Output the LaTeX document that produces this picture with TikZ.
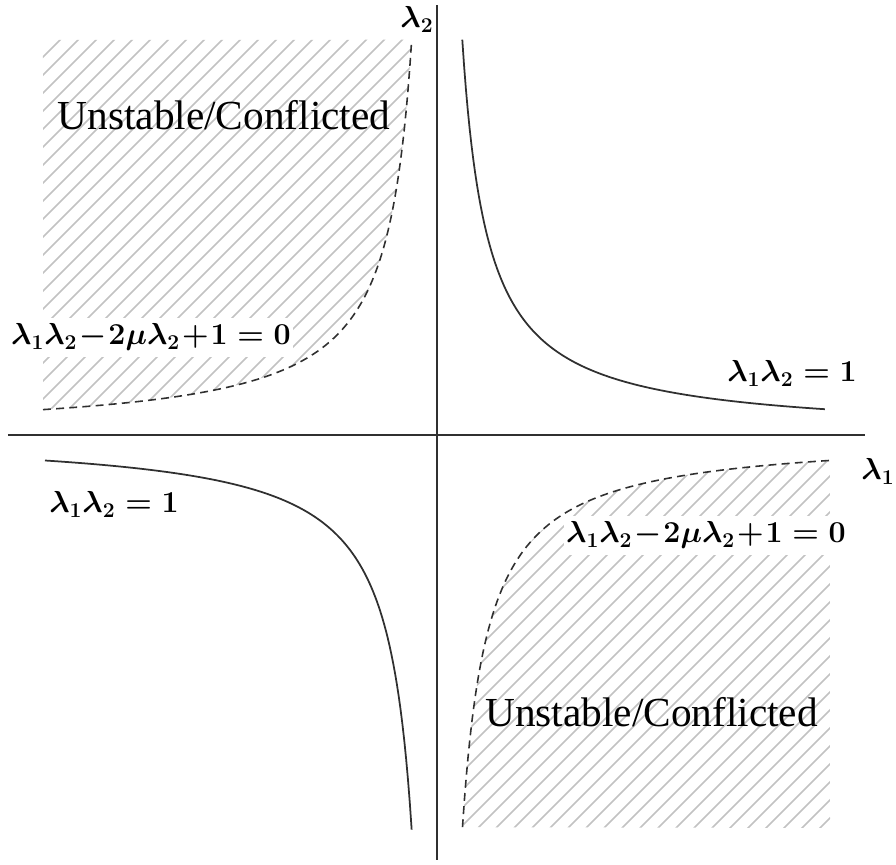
\documentclass[tikz,border=0pt]{standalone}
\usepackage{amsmath,amssymb}
\usepackage{fontspec}
\setmainfont{Liberation Serif}
\DeclareMathSizes{16}{16}{12}{9}
\definecolor{inkgray}{HTML}{303030}
\definecolor{hatchgray}{HTML}{C2C2C2}

\begin{document}
\begin{tikzpicture}[
  axisline/.style={inkgray, line width=1.3pt},
  hyper/.style={inkgray, line width=1pt, samples=200},
  bound/.style={inkgray, line width=0.9pt, samples=200, dash pattern=on 4.5pt off 3pt},
  hatch/.style={hatchgray, line width=0.85pt},
  region/.style={font=\fontsize{23.5}{28}\selectfont, inner sep=0pt},
  eqn/.style={font=\fontsize{16}{19}\selectfont\boldmath, inner sep=1pt},
  eqnbox/.style={eqn, fill=white, inner xsep=1pt, inner ysep=3.5pt}
]

% Frame
\useasboundingbox (-8.74,-8.6) rectangle (9.18,8.7);

% Hatched region, upper left
\begin{scope}
  \clip plot[domain=-0.506:-7.88, samples=200] (\x,{-4/\x}) -- (-7.88,7.9) -- cycle;
  \foreach \k in {0,...,100}
    \draw[hatch] (-9,{6.44-0.36*\k}) -- (9,{24.44-0.36*\k});
\end{scope}

% Hatched region, lower right
\begin{scope}
  \clip plot[domain=0.51:7.86, samples=200] (\x,{-4/\x}) -- (7.86,-7.86) -- cycle;
  \foreach \k in {0,...,100}
    \draw[hatch] (-9,{6.44-0.36*\k}) -- (9,{24.44-0.36*\k});
\end{scope}

% Axes
\draw[axisline] (-8.58,0) -- (8.56,0);
\draw[axisline] (0,-8.5) -- (0,8.6);
\node[eqn, anchor=base] (lam2) at (-0.4,8.14) {$\lambda_2$};
\node[eqn, anchor=base] (lam1) at (8.82,-0.9) {$\lambda_1$};

% lambda1 lambda2 = 1
\draw[hyper] plot[domain=0.506:7.76] (\x,{4/\x});
\draw[hyper] plot[domain=-7.84:-0.506] (\x,{4/\x});

% Stability boundary
\draw[bound] plot[domain=-7.88:-0.506] (\x,{-4/\x});
\draw[bound] plot[domain=0.51:7.86] (\x,{-4/\x});

% Labels
\node[region, anchor=base] (ucA) at (-4.26,6.1) {Unstable/Conflicted};
\node[region, anchor=base] (ucB) at (4.29,-5.84) {Unstable/Conflicted};

\node[eqnbox, anchor=base] (bndA) at (-5.72,1.8) {$\medmuskip=1mu \lambda_1\lambda_2 - 2\mu\lambda_2 + 1 = 0$};
\node[eqnbox, anchor=base] (bndB) at (5.38,-2.16) {$\medmuskip=1mu \lambda_1\lambda_2 - 2\mu\lambda_2 + 1 = 0$};
\node[eqn, anchor=base] (hypA) at (7.1,1.06) {$\lambda_1\lambda_2 = 1$};
\node[eqn, anchor=base] (hypB) at (-6.46,-1.56) {$\lambda_1\lambda_2 = 1$};

\end{tikzpicture}
\end{document}
